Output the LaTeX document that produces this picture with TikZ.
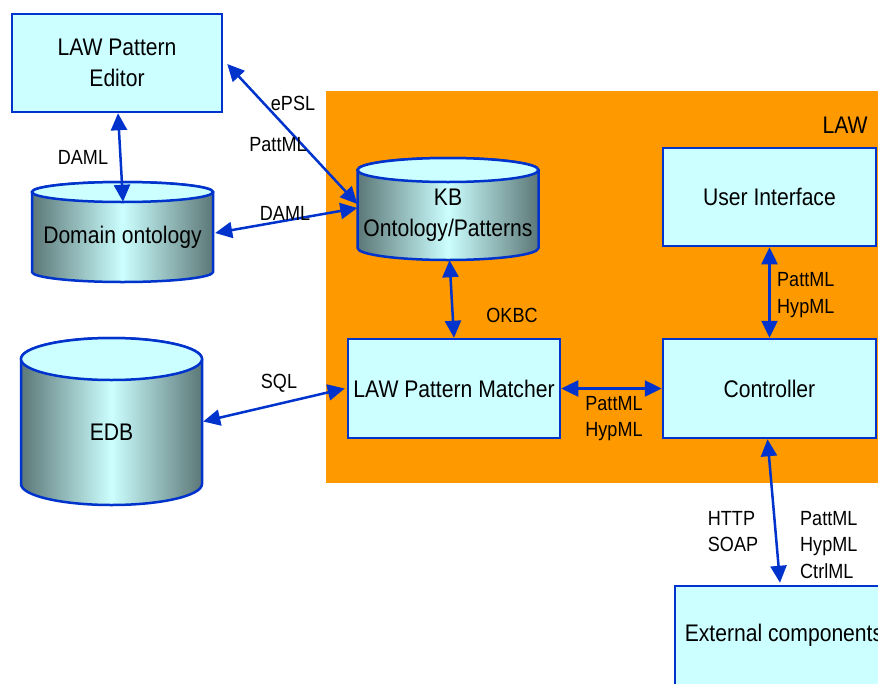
\documentclass[tikz,border=0pt]{standalone}
\usepackage{fontspec}
\setmainfont{Liberation Sans}[FakeStretch=0.88]
\usetikzlibrary{arrows.meta}

\definecolor{lawblue}{HTML}{0033CC}
\definecolor{lawfill}{HTML}{CCFFFF}
\definecolor{laworange}{HTML}{FF9900}
\definecolor{cyldark}{HTML}{5C7777}

% database drum: name, centre x, top, bottom, half width, ellipse radius, text
\newcommand{\dbcyl}[7]{%
  \path[cyl body] (#2-#5,#3+#6) -- (#2-#5,#4-#6)
    arc[start angle=180,end angle=360,x radius=#5pt,y radius=#6pt]
    -- (#2+#5,#3+#6)
    arc[start angle=0,end angle=180,x radius=#5pt,y radius=#6pt] -- cycle;
  \path[cyl top] (#2,#3+#6) ellipse[x radius=#5pt,y radius=#6pt];
  \node[inner sep=0pt,minimum width=2*#5pt,minimum height=#4pt-#3pt] (#1) at (#2,{(#3+#4)/2}) {};
  \node[main text] (#1 text) at (#2,{(#3+#6+#4)/2}) {#7};
}

\begin{document}
\begin{tikzpicture}[x=1pt,y=-1pt,
    main text/.style={font=\fontsize{24}{31}\selectfont,align=center,inner sep=0pt},
    box/.style={main text,draw=lawblue,fill=lawfill,line width=2.5pt},
    cyl body/.style={draw=lawblue,line width=2.5pt,left color=cyldark,right color=cyldark,middle color=lawfill},
    cyl top/.style={draw=lawblue,fill=lawfill,line width=2.5pt},
    lbl/.style={font=\fontsize{20.5}{26.5}\selectfont,align=left,inner sep=0pt},
    link/.style={lawblue,line width=2.5pt,{Triangle[length=17pt,width=16pt]}-{Triangle[length=17pt,width=16pt]}}]

  \useasboundingbox (0,0) rectangle (878,683);
  \clip (0,0) rectangle (878,683);

  % LAW area
  \fill[laworange] (326,91) rectangle (890,483);
  \node[main text] (law) at (845,125) {LAW};

  \node[box,minimum width=210pt,minimum height=98pt] (editor) at (117,63) {LAW Pattern\\Editor};
  \node[box,minimum width=213pt,minimum height=98pt] (ui) at (769.5,197) {User Interface};
  \node[box,minimum width=212pt,minimum height=99pt] (matcher) at (454,388.5) {LAW Pattern Matcher};
  \node[box,minimum width=213pt,minimum height=99pt] (ctrl) at (769.5,388.5) {Controller};
  \node[box,minimum width=218pt,minimum height=99pt] (ext) at (784,635.5) {External components};

  \dbcyl{dom}{122.5}{182}{282}{90.5}{10}{Domain ontology}
  \dbcyl{kb}{448}{158}{260}{90.5}{12}{KB\\Ontology/Patterns}
  \dbcyl{edb}{111.5}{338}{505}{90.5}{21}{EDB}

  \draw[link] ([xshift=1pt]editor.south) -- ([xshift=0.5pt,yshift=-20pt]dom.north);
  \draw[link] ([xshift=4pt,yshift=-1pt]editor.east) -- ([yshift=5pt]kb.west);
  \draw[link] ([xshift=2pt,yshift=-1pt]dom.east) -- ([yshift=1pt]kb.west);
  \draw[link] ([xshift=1.5pt]kb.south) -- (matcher.north);
  \draw[link] (ui.south) -- (ctrl.north);
  \draw[link] (matcher.east) -- (ctrl.west);
  \draw[link] ([xshift=1pt]edb.east) -- ([xshift=-2pt]matcher.west);
  \draw[link] ([xshift=-2pt]ctrl.south) -- ([xshift=-4pt,yshift=2pt]ext.north);

  % protocol labels
  \node[lbl] (l1) at (83,157) {DAML};
  \node[lbl] (l2) at (293,103) {ePSL};
  \node[lbl] (l3) at (278,145) {PattML};
  \node[lbl] (l4) at (285,213) {DAML};
  \node[lbl] (l5) at (512,315) {OKBC};
  \node[lbl,anchor=west] (l6) at (777,295) {PattML\\HypML};
  \node[lbl] (l7) at (614,418.5) {PattML\\HypML};
  \node[lbl] (l8) at (279,383) {SQL};
  \node[lbl] (l9) at (733,531.5) {HTTP\\SOAP};
  \node[lbl,anchor=west] (l10) at (800,545) {PattML\\HypML\\CtrlML};

\end{tikzpicture}
\end{document}
